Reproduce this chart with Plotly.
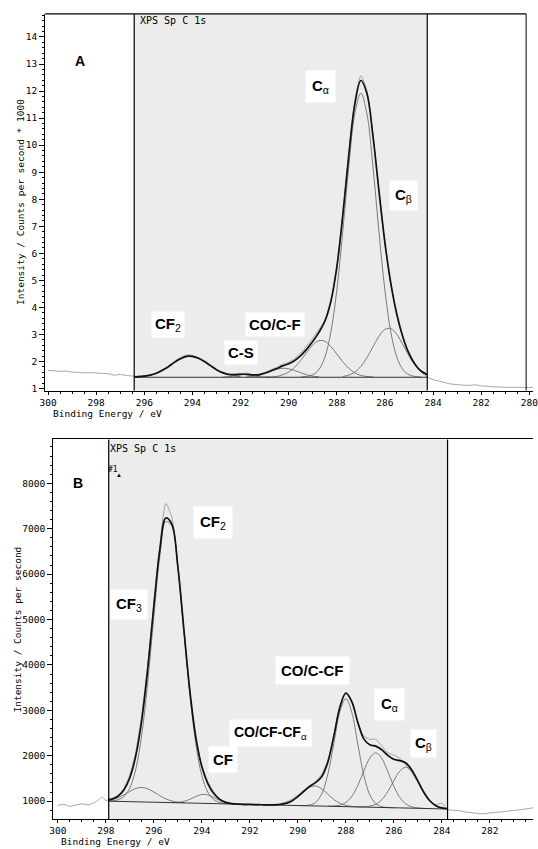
import plotly.graph_objects as go

W, H = 538, 849

# ======================= Panel A data =======================
A_baseline = 1.42
A_fit_left, A_fit_right = 296.42, 284.24

A_grid = [296.4, 296.25, 296.0, 295.75, 295.5, 295.25, 295.0, 294.75, 294.5, 294.25, 294.0,
          293.75, 293.5, 293.25, 293.0, 292.75, 292.5, 292.25, 292.0,
          291.75, 291.5, 291.25, 291.0, 290.75, 290.5, 290.25, 290.0,
          289.75, 289.5, 289.25, 289.0, 288.75, 288.5, 288.25, 288.0,
          287.75, 287.5, 287.25, 287.0, 286.75, 286.5, 286.25, 286.0,
          285.75, 285.5, 285.25, 285.0, 284.75, 284.5, 284.25]
A_resid = [0.03, 0.02, 0.01, -0.01, 0.02, 0.03, 0.02, 0.04, 0.05, 0.06, 0.04,
           0.02, 0.0, -0.02, -0.01, -0.02, -0.03, -0.02, 0.02,
           0.04, 0.01, 0.02, 0.03, 0.05, 0.04, 0.06, 0.05,
           0.08, 0.10, 0.12, 0.12, 0.10, 0.05, 0.0, -0.08,
           -0.05, 0.05, 0.12, 0.18, 0.10, 0.05, 0.02, -0.04,
           -0.06, -0.05, -0.03, -0.02, 0.0, -0.03, -0.08]

A_left_E = [300.0, 299.75, 299.5, 299.25, 299.0, 298.75, 298.5, 298.25, 298.0,
            297.75, 297.5, 297.25, 297.0, 296.75, 296.55]
A_left_I = [1.67, 1.66, 1.64, 1.65, 1.61, 1.60, 1.58, 1.59, 1.58,
            1.56, 1.55, 1.50, 1.52, 1.49, 1.47]
A_right_E = [284.0, 283.75, 283.5, 283.25, 283.0, 282.75, 282.5, 282.25, 282.0,
             281.75, 281.5, 281.25, 281.0, 280.5, 280.0, 279.85]
A_right_I = [1.33, 1.28, 1.22, 1.17, 1.15, 1.13, 1.12, 1.14, 1.10,
             1.09, 1.07, 1.06, 1.05, 1.05, 1.04, 1.05]

A_cf2_E = [296.4, 296.25, 296.0, 295.75, 295.5, 295.25, 295.0, 294.75, 294.5, 294.25, 294.0,
           293.75, 293.5, 293.25, 293.0, 292.75, 292.5, 292.25, 292.0]
A_cf2_V = [0.01, 0.02, 0.04, 0.08, 0.15, 0.26, 0.39, 0.55, 0.68, 0.77, 0.77,
           0.70, 0.58, 0.43, 0.28, 0.17, 0.09, 0.05, 0.02]
A_cs_E = [292.75, 292.5, 292.25, 292.0, 291.75, 291.5, 291.25, 291.0, 290.75]
A_cs_V = [0.0, 0.02, 0.05, 0.09, 0.10, 0.06, 0.02, 0.01, 0.0]
A_c290_E = [291.75, 291.5, 291.25, 291.0, 290.75, 290.5, 290.25, 290.0, 289.75,
            289.5, 289.25, 289.0, 288.75]
A_c290_V = [0.01, 0.03, 0.07, 0.14, 0.22, 0.29, 0.33, 0.31, 0.25, 0.17, 0.09, 0.04, 0.02]
A_cocf_E = [291.0, 290.75, 290.5, 290.25, 290.0, 289.75, 289.5, 289.25, 289.0, 288.75,
            288.5, 288.25, 288.0, 287.75, 287.5, 287.25, 287.0, 286.75, 286.5]
A_cocf_V = [0.0, 0.01, 0.03, 0.09, 0.19, 0.37, 0.62, 0.92, 1.19, 1.35,
            1.33, 1.14, 0.86, 0.57, 0.33, 0.16, 0.07, 0.03, 0.01]
A_ca_E = [289.5, 289.25, 289.0, 288.75, 288.5, 288.25, 288.0, 287.75, 287.5, 287.25, 287.0,
          286.75, 286.5, 286.25, 286.0, 285.75, 285.5, 285.25, 285.0, 284.75, 284.5]
A_ca_V = [0.01, 0.03, 0.09, 0.28, 0.73, 1.65, 3.21, 5.40, 7.81, 9.75, 10.5,
          9.75, 7.81, 5.40, 3.21, 1.65, 0.73, 0.28, 0.09, 0.03, 0.01]
A_cb_E = [287.75, 287.5, 287.25, 287.0, 286.75, 286.5, 286.25, 286.0, 285.75, 285.5,
          285.25, 285.0, 284.75, 284.5, 284.25]
A_cb_V = [0.03, 0.08, 0.19, 0.40, 0.72, 1.12, 1.51, 1.77, 1.80, 1.58,
          1.20, 0.79, 0.45, 0.22, 0.10]

# ======================= Panel B data =======================
B_fit_left, B_fit_right = 297.88, 283.76
B_grid = [297.9, 297.75, 297.5, 297.25, 297.0, 296.75, 296.5, 296.25, 296.0,
          295.75, 295.5, 295.25, 295.0, 294.75, 294.5, 294.25, 294.0,
          293.75, 293.5, 293.25, 293.0, 292.75, 292.5, 292.25, 292.0,
          291.75, 291.5, 291.25, 291.0, 290.75, 290.5, 290.25, 290.0,
          289.75, 289.5, 289.25, 289.0, 288.75, 288.5, 288.25, 288.0,
          287.75, 287.5, 287.25, 287.0, 286.75, 286.5, 286.25, 286.0,
          285.75, 285.5, 285.25, 285.0, 284.75, 284.5, 284.25, 284.0, 283.75]
B_base = [1000, 998, 995, 992, 989, 986, 982, 979, 976,
          973, 970, 967, 964, 961, 958, 955, 952,
          949, 946, 943, 940, 937, 934, 931, 928,
          925, 921, 918, 915, 912, 909, 906, 903,
          900, 897, 894, 891, 888, 885, 882, 879,
          876, 873, 870, 867, 864, 860, 857, 854,
          851, 848, 845, 842, 839, 836, 833, 830, 827]
B_resid = [-5, -5, 10, 30, 60, 90, 120, 80, 60,
           100, 320, 150, 40, 0, -40, -20, 20,
           50, 40, 10, -10, -20, -10, -25, -15,
           -20, 5, -10, 10, 20, 30, 40, 30,
           20, 0, 30, 60, 40, 20, 30, 20,
           -20, 20, 60, 120, 150, 80, 60, 90,
           50, -40, -60, -30, -20, 10, 20, 100, -20]

B_left_E = [300.0, 299.75, 299.5, 299.25, 299.0, 298.75, 298.5, 298.3, 298.15, 298.0]
B_left_I = [906, 930, 884, 915, 941, 920, 960, 1030, 1088, 1015]
B_right_E = [283.5, 283.25, 283.0, 282.75, 282.5, 282.25, 282.0, 281.75, 281.5,
             281.25, 281.0, 280.75, 280.5, 280.2]
B_right_I = [800, 790, 760, 745, 730, 722, 740, 755, 765, 780, 796, 810, 830, 853]

B_cf3_E = [297.9, 297.75, 297.5, 297.25, 297.0, 296.75, 296.5, 296.25, 296.0, 295.75,
           295.5, 295.25, 295.0, 294.75]
B_cf3_V = [25, 37, 80, 147, 226, 293, 320, 293, 226, 147, 80, 37, 14, 5]
B_cf2_E = [297.9, 297.75, 297.5, 297.25, 297.0, 296.75, 296.5, 296.25, 296.0, 295.75,
           295.5, 295.25, 295.0, 294.75, 294.5, 294.25, 294.0, 293.75, 293.5,
           293.25, 293.0, 292.75]
B_cf2_V = [4, 9, 34, 109, 302, 724, 1495, 2662, 4088, 5415,
           6186, 6095, 5180, 3797, 2400, 1309, 615, 250, 87,
           26, 7, 2]
B_cf_E = [295.25, 295.0, 294.75, 294.5, 294.25, 294.0, 293.75, 293.5, 293.25, 293.0,
          292.75, 292.5]
B_cf_V = [2, 10, 34, 82, 148, 195, 189, 135, 70, 27, 8, 2]
B_cocfa_E = [291.0, 290.75, 290.5, 290.25, 290.0, 289.75, 289.5, 289.25, 289.0, 288.75,
             288.5, 288.25, 288.0, 287.75, 287.5]
B_cocfa_V = [4, 14, 41, 99, 196, 315, 412, 438, 379, 267, 153, 71, 27, 8, 2]
B_cocf_E = [290.0, 289.75, 289.5, 289.25, 289.0, 288.75, 288.5, 288.25, 288.0,
            287.75, 287.5, 287.25, 287.0, 286.75, 286.5, 286.25, 286.0]
B_cocf_V = [0, 3, 18, 80, 272, 702, 1383, 2078, 2380, 2078, 1383, 702, 272, 80, 18, 3, 0]
B_ca_E = [288.75, 288.5, 288.25, 288.0, 287.75, 287.5, 287.25, 287.0, 286.75,
          286.5, 286.25, 286.0, 285.75, 285.5, 285.25, 285.0, 284.75]
B_ca_V = [2, 8, 29, 91, 230, 474, 794, 1082, 1200, 1082, 794, 474, 230, 91, 29, 8, 2]
B_cb_E = [287.5, 287.25, 287.0, 286.75, 286.5, 286.25, 286.0, 285.75, 285.5,
          285.25, 285.0, 284.75, 284.5, 284.25, 284.0, 283.75]
B_cb_V = [1, 6, 22, 68, 172, 355, 595, 812, 900, 812, 595, 355, 172, 68, 22, 6]

# ======================= helpers =======================
MONO = "DejaVu Sans Mono"
SANS = "Liberation Sans, Arial"
ENV_C, COMP_C, MEAS_C = "#111111", "#6e6e6e", "#a3a3a3"


def k(e):
    return round(e, 2)


fig = go.Figure()


def add_panel(xa, ya, grid, base_of, resid, comps, left_E, left_I, right_E, right_I,
              base_line):
    env = {}
    for e in grid:
        env[k(e)] = base_of(e)
    for E, V in comps:
        for e, v in zip(E, V):
            env[k(e)] += v
    meas_x = list(left_E) + list(grid) + list(right_E)
    meas_y = list(left_I) + [env[k(e)] + r for e, r in zip(grid, resid)] + list(right_I)
    fig.add_trace(go.Scatter(x=meas_x, y=meas_y, mode="lines", xaxis=xa, yaxis=ya,
                             line=dict(color=MEAS_C, width=1, shape="spline", smoothing=0.6),
                             hoverinfo="skip"))
    for E, V in comps:
        fig.add_trace(go.Scatter(x=E, y=[base_of(e) + v for e, v in zip(E, V)], mode="lines",
                                 xaxis=xa, yaxis=ya,
                                 line=dict(color=COMP_C, width=0.9, shape="spline"),
                                 hoverinfo="skip"))
    fig.add_trace(go.Scatter(x=base_line[0], y=base_line[1], mode="lines", xaxis=xa, yaxis=ya,
                             line=dict(color="#333333", width=1), hoverinfo="skip"))
    fig.add_trace(go.Scatter(x=list(grid), y=[env[k(e)] for e in grid], mode="lines",
                             xaxis=xa, yaxis=ya,
                             line=dict(color=ENV_C, width=1.7, shape="spline"),
                             hoverinfo="skip"))


A_comps = [(A_cf2_E, A_cf2_V), (A_cs_E, A_cs_V), (A_c290_E, A_c290_V),
           (A_cocf_E, A_cocf_V), (A_ca_E, A_ca_V), (A_cb_E, A_cb_V)]
add_panel("x", "y", A_grid, lambda e: A_baseline, A_resid, A_comps,
          A_left_E, A_left_I, A_right_E, A_right_I,
          ([A_fit_left, A_fit_right], [A_baseline, A_baseline]))

B_base_map = {k(e): b for e, b in zip(B_grid, B_base)}
B_comps = [(B_cf3_E, B_cf3_V), (B_cf2_E, B_cf2_V), (B_cf_E, B_cf_V),
           (B_cocfa_E, B_cocfa_V), (B_cocf_E, B_cocf_V), (B_ca_E, B_ca_V), (B_cb_E, B_cb_V)]
add_panel("x2", "y2", B_grid, lambda e: B_base_map[k(e)], B_resid, B_comps,
          B_left_E, B_left_I, B_right_E, B_right_I,
          ([B_grid[0], B_grid[-1]], [B_base[0], B_base[-1]]))

# ======================= axes =======================
tickfont = dict(family=MONO, size=9.5, color="black")
common_x = dict(ticks="outside", ticklen=3, tickwidth=1, tickcolor="black", dtick=2,
                showline=True, linecolor="black", linewidth=1, showgrid=False, zeroline=False,
                tickfont=tickfont, fixedrange=True, ticklabeloverflow="allow",
                minor=dict(ticks="outside", ticklen=2, dtick=0.5, tickcolor="black",
                           showgrid=False))
common_y = dict(ticks="outside", ticklen=5, tickwidth=1, tickcolor="black",
                showline=True, linecolor="black", linewidth=1, showgrid=False, zeroline=False,
                tickfont=tickfont, fixedrange=True)

fig.update_layout(
    width=W, height=H, autosize=False, showlegend=False,
    margin=dict(l=0, r=0, t=0, b=0, pad=0),
    paper_bgcolor="white", plot_bgcolor="white",
    xaxis=dict(common_x, domain=[40 / W, 1.0], range=[300.12, 279.845], anchor="y", tick0=300),
    yaxis=dict(common_y, domain=[1 - 392 / H, 1 - 14 / H], range=[0.926, 14.85], anchor="x",
               dtick=1, tick0=1,
               minor=dict(ticks="outside", ticklen=2.5, dtick=0.2, tickcolor="black",
                          showgrid=False)),
    xaxis2=dict(common_x, domain=[48 / W, 1.0], range=[300.2, 280.2], anchor="y2", tick0=300,
                mirror=True),
    yaxis2=dict(common_y, domain=[1 - 822 / H, 1 - 441 / H], range=[605, 8966], anchor="x2",
                dtick=1000, tick0=1000,
                minor=dict(ticks="outside", ticklen=2.5, dtick=200, tickcolor="black",
                           showgrid=False)),
)

shapes = []
# shaded fit regions
for xr, yr, x0, x1 in [("x", "y", A_fit_left, A_fit_right), ("x2", "y2", B_fit_left, B_fit_right)]:
    shapes.append(dict(type="rect", xref=xr, yref=yr + " domain", x0=x0, x1=x1, y0=0, y1=1,
                       fillcolor="#ececec", line=dict(width=0), layer="below"))
    for xx in (x0, x1):
        shapes.append(dict(type="line", xref=xr, yref=yr + " domain", x0=xx, x1=xx, y0=0, y1=1,
                           line=dict(color="black", width=1.2)))
# panel A frame (top and right)
shapes.append(dict(type="line", xref="x", yref="y domain", x0=300.12, x1=280.13, y0=1, y1=1,
                   line=dict(color="black", width=1.2)))
shapes.append(dict(type="line", xref="x", yref="y domain", x0=280.13, x1=280.13, y0=0, y1=1,
                   line=dict(color="black", width=1)))
fig.update_layout(shapes=shapes)


def P(px, py):
    return px / W, 1 - py / H


anns = []


def ann(px, py, text, size=15, family=SANS, bg=None, xanchor="center", angle=0, color="black",
        pad=3):
    x, y = P(px, py)
    d = dict(x=x, y=y, xref="paper", yref="paper", text=text, showarrow=False,
             xanchor=xanchor, yanchor="middle", textangle=angle,
             font=dict(family=family, size=size, color=color), borderpad=pad)
    if bg:
        d["bgcolor"] = bg
    anns.append(d)


# axis titles
ann(15, 203, "Intensity / Counts per second * 1000", size=9.5, family=MONO, angle=-90)
ann(44, 415, "Binding Energy / eV", size=9.5, family=MONO, xanchor="left")
ann(12, 632, "Intensity / Counts per second", size=9.5, family=MONO, angle=-90)
ann(52, 844, "Binding Energy / eV", size=9.5, family=MONO, xanchor="left")

# header text in shaded regions
ann(133, 21, "XPS Sp C 1s", size=10, family=MONO, xanchor="left")
ann(102, 450, "XPS Sp C 1s", size=10, family=MONO, xanchor="left")
ann(100, 471, "#1", size=8, family=MONO, xanchor="left")
ann(115, 477, "▲", size=6, family=SANS)

# panel letters
ann(76, 61, "<b>A</b>", size=14)
ann(74, 485, "<b>B</b>", size=14)

# peak labels panel A
ann(321, 87, "<b>C</b><sub>α</sub>", bg="white", pad=6)
ann(406, 196, "<b>C</b><sub>β</sub>", bg="white", pad=5)
ann(165, 326, "<b>CF</b><sub>2</sub>", bg="white", pad=3)
ann(240, 354, "<b>C-S</b>", bg="white", pad=3)
ann(275, 326, "<b>CO/C-F</b>", bg="white", pad=3)

# peak labels panel B
ann(211, 524, "<b>CF</b><sub>2</sub>", bg="white", pad=6)
ann(126, 607, "<b>CF</b><sub>3</sub>", bg="white", pad=5)
ann(222, 762, "<b>CF</b>", bg="white", pad=4)
ann(313, 673, "<b>CO/C-CF</b>", bg="white", pad=5)
ann(270, 736, "<b>CO/CF-CF</b><sub>α</sub>", size=14, bg="white", pad=4)
ann(392, 707, "<b>C</b><sub>α</sub>", bg="white", pad=6)
ann(426, 746, "<b>C</b><sub>β</sub>", bg="white", pad=4)

fig.update_layout(annotations=anns)

fig.write_html("out.html")
